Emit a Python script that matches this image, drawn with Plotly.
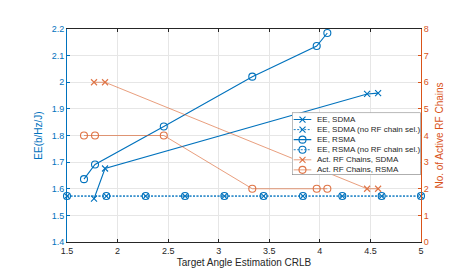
import plotly.graph_objects as go

# ---- data ----
x_sdma = [1.767, 1.876, 4.467, 4.576]
ee_sdma = [1.5625, 1.676, 1.956, 1.959]
x_rsma = [1.668, 1.777, 2.457, 3.332, 3.969, 4.074]
ee_rsma = [1.636, 1.691, 1.834, 2.021, 2.136, 2.185]
x_norf = [1.5, 1.889, 2.278, 2.667, 3.056, 3.444, 3.833, 4.222, 4.611, 5.0]
ee_sdma_norf = [1.5725, 1.5725, 1.5725, 1.5725, 1.5725, 1.5725, 1.5725, 1.5725, 1.5725, 1.5725]
ee_rsma_norf = [1.5725, 1.5725, 1.5725, 1.5725, 1.5725, 1.5725, 1.5725, 1.5725, 1.5725, 1.5725]
rf_sdma = [6, 6, 2, 2]
rf_rsma = [4, 4, 4, 2, 2, 2]

legend_names = ["EE, SDMA", "EE, SDMA (no RF chain sel.)", "EE, RSMA",
                "EE, RSMA (no RF chain sel.)", "Act. RF Chains, SDMA", "Act. RF Chains, RSMA"]

x_ticks = [1.5, 2, 2.5, 3, 3.5, 4, 4.5, 5]
x_ticklabels = ["1.5", "2", "2.5", "3", "3.5", "4", "4.5", "5"]
y_ticks = [1.4, 1.5, 1.6, 1.7, 1.8, 1.9, 2.0, 2.1, 2.2]
y_ticklabels = ["1.4", "1.5", "1.6", "1.7", "1.8", "1.9", "2", "2.1", "2.2"]
y2_ticks = [0, 1, 2, 3, 4, 5, 6, 7, 8]

BLUE = "#0072BD"
ORANGE = "#D95319"
FONT = "Liberation Sans, Arial, sans-serif"

W, H = 457, 271
ML, MR, MT, MB = 59, 44, 21, 30

styles = [
    dict(color=BLUE, width=1.1, dash="solid", symbol="x-thin-open", size=6, axis="y", mw=1.1),
    dict(color=BLUE, width=0.9, dash="2px,1.5px", symbol="x-thin-open", size=6, axis="y", mw=1.1),
    dict(color=BLUE, width=1.1, dash="solid", symbol="circle-open", size=7, axis="y", mw=1.1),
    dict(color=BLUE, width=0.9, dash="2px,1.5px", symbol="circle-open", size=7, axis="y", mw=1.1),
    dict(color=ORANGE, width=0.7, dash="solid", symbol="x-thin-open", size=6, axis="y2", mw=1.1),
    dict(color=ORANGE, width=0.7, dash="solid", symbol="circle-open", size=7, axis="y2", mw=1.1),
]
series = [(x_sdma, ee_sdma), (x_norf, ee_sdma_norf), (x_rsma, ee_rsma),
          (x_norf, ee_rsma_norf), (x_sdma, rf_sdma), (x_rsma, rf_rsma)]

fig = go.Figure()
for (xs, ys), st, name in zip(series, styles, legend_names):
    fig.add_trace(go.Scatter(
        x=xs, y=ys, name=name, mode="lines+markers", yaxis=st["axis"], xaxis="x",
        line=dict(color=st["color"], width=st["width"], dash=st["dash"]),
        marker=dict(symbol=st["symbol"], size=st["size"], color=st["color"],
                    line=dict(color=st["color"], width=st["mw"])),
        cliponaxis=False, showlegend=False,
        opacity=0.8 if st["color"] == ORANGE else 1,
    ))

# ---- custom legend (drawn in a small box subplot) ----
plot_w = W - ML - MR
plot_h = H - MT - MB
box_left_px, box_top_px, box_right_px, box_bot_px = 284.0, 107.3, 412.7, 171.7
bw = box_right_px - box_left_px
bh = box_bot_px - box_top_px
dom_x = [(box_left_px - ML) / plot_w, (box_right_px - ML) / plot_w]
dom_y = [(H - MB - box_bot_px) / plot_h, (H - MB - box_top_px) / plot_h]

fig.add_trace(go.Scatter(
    x=[0, bw, bw, 0, 0], y=[0, 0, bh, bh, 0], xaxis="x3", yaxis="y3",
    mode="lines", fill="toself", fillcolor="white",
    line=dict(color="#7a7a7a", width=1), cliponaxis=False, showlegend=False, hoverinfo="skip"))

row0, row_step = 7.2, 10.4
for i, (st, name) in enumerate(zip(styles, legend_names)):
    yy = row0 + i * row_step
    fig.add_trace(go.Scatter(
        x=[1.7, 19.3], y=[yy, yy], xaxis="x3", yaxis="y3", mode="lines",
        line=dict(color=st["color"], width=st["width"], dash=st["dash"]),
        opacity=0.8 if st["color"] == ORANGE else 1,
        showlegend=False, hoverinfo="skip", cliponaxis=False))
    fig.add_trace(go.Scatter(
        x=[10.5], y=[yy], xaxis="x3", yaxis="y3", mode="markers",
        marker=dict(symbol=st["symbol"], size=st["size"], color=st["color"],
                    line=dict(color=st["color"], width=st["mw"])),
        opacity=0.8 if st["color"] == ORANGE else 1,
        showlegend=False, hoverinfo="skip", cliponaxis=False))
    fig.add_annotation(x=22.5, y=yy, xref="x3", yref="y3", text=name, showarrow=False,
                       xanchor="left", yanchor="middle",
                       font=dict(family=FONT, size=8, color="#262626"))

fig.update_layout(
    width=W, height=H,
    margin=dict(l=ML, r=MR, t=MT, b=MB, pad=0),
    paper_bgcolor="white", plot_bgcolor="white",
    font=dict(family=FONT, size=9, color="#262626"),
    showlegend=False,
    xaxis=dict(range=[1.5, 5], tickvals=x_ticks, ticktext=x_ticklabels,
               showgrid=True, gridcolor="#e6e6e6", gridwidth=1, zeroline=False,
               showline=True, linecolor="#262626", linewidth=1, mirror="ticks",
               ticks="inside", ticklen=3, tickcolor="#262626",
               tickfont=dict(size=9, color="#262626"),
               title=dict(text="Target Angle Estimation CRLB", font=dict(size=10, color="#262626"), standoff=4)),
    yaxis=dict(range=[1.4, 2.2], tickvals=y_ticks, ticktext=y_ticklabels,
               showgrid=True, gridcolor="#e6e6e6", gridwidth=1, zeroline=False,
               showline=True, linecolor=BLUE, linewidth=1,
               ticks="inside", ticklen=3, tickcolor=BLUE,
               tickfont=dict(size=9, color=BLUE),
               title=dict(text="EE(b/Hz/J)", font=dict(size=10, color=BLUE), standoff=7)),
    yaxis2=dict(range=[0, 8], tickvals=y2_ticks, overlaying="y", side="right",
                showgrid=False, zeroline=False,
                showline=True, linecolor=ORANGE, linewidth=1,
                ticks="inside", ticklen=3, tickcolor=ORANGE,
                tickfont=dict(size=9, color=ORANGE),
                title=dict(text="No. of Active RF Chains", font=dict(size=10, color=ORANGE), standoff=8)),
    xaxis3=dict(domain=dom_x, range=[0, bw], visible=False, anchor="y3", fixedrange=True),
    yaxis3=dict(domain=dom_y, range=[bh, 0], visible=False, anchor="x3", fixedrange=True),
)

fig.write_html("out.html")
